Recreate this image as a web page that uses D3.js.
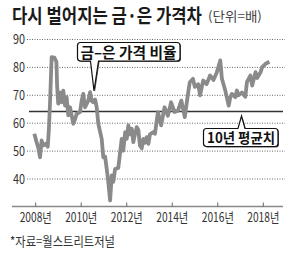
<!DOCTYPE html>
<html>
<head>
<meta charset="utf-8">
<script src="https://cdn.jsdelivr.net/npm/d3@7"></script>
<style>
	body { margin: 0; background: #fff; }
	text { font-family: "Noto Sans CJK KR", "Noto Sans", sans-serif; }
</style>
</head>
<body>
<div id="chart"></div>
<script>
// Gold/silver price ratio (decimal year, ratio)
var years = [2007.94, 2008.04, 2008.12, 2008.19, 2008.26, 2008.33, 2008.44, 2008.53, 2008.58, 2008.63,
	2008.70, 2008.82, 2008.91, 2008.94, 2008.99, 2009.07, 2009.14, 2009.21, 2009.29, 2009.36,
	2009.43, 2009.51, 2009.65, 2009.73, 2009.80, 2009.95, 2010.02, 2010.09, 2010.17, 2010.31,
	2010.39, 2010.46, 2010.53, 2010.61, 2010.68, 2010.75, 2010.90, 2010.97, 2011.05, 2011.12,
	2011.19, 2011.27, 2011.34, 2011.41, 2011.49, 2011.63, 2011.78, 2011.85, 2011.93, 2012.00,
	2012.07, 2012.15, 2012.22, 2012.29, 2012.36, 2012.44, 2012.51, 2012.58, 2012.66, 2012.73,
	2012.80, 2012.88, 2012.95, 2013.02, 2013.17, 2013.24, 2013.37, 2013.51, 2013.66, 2013.81,
	2013.95, 2014.10, 2014.25, 2014.40, 2014.55, 2014.69, 2014.77, 2014.91, 2014.99, 2015.14,
	2015.22, 2015.36, 2015.51, 2015.66, 2015.81, 2015.96, 2016.11, 2016.18, 2016.33, 2016.48,
	2016.55, 2016.62, 2016.77, 2016.84, 2016.91, 2017.06, 2017.21, 2017.28, 2017.43, 2017.51,
	2017.66, 2017.73, 2017.88, 2017.95, 2018.10, 2018.27];
var ratio = [56.2, 53.2, 51.0, 47.8, 53.8, 52.0, 52.6, 51.6, 58.0, 67.5,
	83.7, 83.5, 82.0, 73.5, 67.0, 71.0, 67.5, 71.7, 66.3, 69.3,
	62.8, 65.7, 59.8, 61.4, 63.4, 64.0, 68.1, 70.5, 65.7, 68.1,
	71.1, 68.0, 67.5, 68.5, 65.7, 59.8, 54.4, 47.8, 48.0, 43.6,
	38.9, 32.3, 41.3, 39.0, 43.6, 44.0, 54.4, 50.2, 56.8, 54.4,
	59.2, 56.0, 58.0, 53.2, 56.0, 58.6, 57.6, 52.0, 51.0, 54.4,
	53.0, 55.0, 52.6, 56.0, 56.8, 56.2, 64.0, 59.2, 65.7, 62.7,
	67.5, 64.0, 64.5, 68.1, 62.2, 70.5, 74.7, 75.9, 73.0, 74.0,
	70.0, 75.3, 74.0, 77.1, 75.5, 78.3, 82.5, 76.0, 71.7, 66.3,
	69.3, 70.5, 69.3, 71.7, 70.0, 71.0, 69.5, 74.7, 77.1, 73.5,
	78.3, 76.2, 78.3, 80.1, 81.3, 82.0];
var tenYearAvg = 64.2;

var yTicks = [40, 50, 60, 70, 80, 90];
var xTicks = [2008, 2010, 2012, 2014, 2016, 2018];
var xTickLabels = ['2008년', '2010년', '2012년', '2014년', '2016년', '2018년'];

var titleText = '다시 벌어지는 금·은 가격차';
var unitText = '(단위=배)';
var sourceText = '*자료=월스트리트저널';
var lineLabel = '금–은 가격 비율';
var avgLabel = '10년 평균치';

var svgWidth = 300;
var svgHeight = 253;

var svg = d3.select('#chart').append('svg').attr('width', svgWidth).attr('height', svgHeight);

var x = d3.scaleLinear().domain([2008, 2018]).range([35.7, 263.3]);
var y = d3.scaleLinear().domain([40, 90]).range([179, 39.5]);

// Title: squeezed horizontally with a transform so the text box really ends where it is drawn
var title = svg.append('text').attr('x', 0).attr('y', 0).attr('font-size', 18).attr('font-weight', 'bold')
	.attr('fill', '#1a1a1a').text(titleText);
var titleLen = title.node().getComputedTextLength();
title.attr('transform', `translate(12, 23) scale(${190 / titleLen}, 1.1)`);

var unit = svg.append('text').attr('x', 0).attr('y', 0).attr('font-size', 13).attr('fill', '#444').text(unitText);
var unitLen = unit.node().getComputedTextLength();
unit.attr('transform', `translate(208, 21) scale(${54 / unitLen}, 1)`);

// Dotted gridlines + y labels
var grid = svg.append('g');
grid.selectAll('line').data(yTicks).enter().append('line')
	.attr('x1', 27).attr('x2', 285)
	.attr('y1', (d) => y(d)).attr('y2', (d) => y(d))
	.attr('stroke', '#666').attr('stroke-width', 1).attr('stroke-dasharray', '1,1.5');
grid.selectAll('text').data(yTicks).enter().append('text')
	.attr('x', 25).attr('y', (d) => y(d) + 4.5)
	.attr('text-anchor', 'end').attr('font-size', 13).attr('fill', '#333')
	.attr('textLength', 12).attr('lengthAdjust', 'spacingAndGlyphs')
	.text((d) => d);

// 10-year average
svg.append('line').attr('x1', 29).attr('x2', 283)
	.attr('y1', y(tenYearAvg)).attr('y2', y(tenYearAvg))
	.attr('stroke', '#333').attr('stroke-width', 1.5);

// x axis
var xAxis = svg.append('g');
xAxis.append('line').attr('x1', 12).attr('x2', 283).attr('y1', 206.5).attr('y2', 206.5)
	.attr('stroke', '#888').attr('stroke-width', 1.5);
xAxis.selectAll('.tick').data(xTicks).enter().append('line')
	.attr('x1', (d) => x(d)).attr('x2', (d) => x(d))
	.attr('y1', 202.5).attr('y2', 206.5)
	.attr('stroke', '#666').attr('stroke-width', 1);
xAxis.selectAll('text').data(xTicks).enter().append('text')
	.attr('x', (d) => x(d)).attr('y', 222)
	.attr('text-anchor', 'middle').attr('font-size', 13).attr('fill', '#333')
	.attr('textLength', 32).attr('lengthAdjust', 'spacingAndGlyphs')
	.text((d, i) => xTickLabels[i]);

// Ratio line
var line = d3.line().x((d, i) => x(years[i])).y((d) => y(d));
svg.append('path').datum(ratio).attr('d', line)
	.attr('fill', 'none').attr('stroke', '#8a8a8a').attr('stroke-width', 3.8)
	.attr('stroke-linejoin', 'round');

// Callout boxes with pointers
function callout(x0, y0, x1, y1, px0, px1, tipX, tipY, pointUp) {
	var r = 3;
	var p = d3.path();
	p.moveTo(x0 + r, y0);
	if (pointUp) {
		p.lineTo(px0, y0); p.lineTo(tipX, tipY); p.lineTo(px1, y0);
	}
	p.lineTo(x1 - r, y0);
	p.quadraticCurveTo(x1, y0, x1, y0 + r);
	p.lineTo(x1, y1 - r);
	p.quadraticCurveTo(x1, y1, x1 - r, y1);
	if (!pointUp) {
		p.lineTo(px1, y1); p.lineTo(tipX, tipY); p.lineTo(px0, y1);
	}
	p.lineTo(x0 + r, y1);
	p.quadraticCurveTo(x0, y1, x0, y1 - r);
	p.lineTo(x0, y0 + r);
	p.quadraticCurveTo(x0, y0, x0 + r, y0);
	p.closePath();
	var g = svg.append('g');
	g.append('path').attr('d', p.toString()).attr('transform', 'translate(1,1)').attr('fill', '#555');
	g.append('path').attr('d', p.toString()).attr('fill', '#fff').attr('stroke', '#111').attr('stroke-width', 1.2);
	return g;
}

var c1 = callout(77.5, 42.5, 180, 61, 90.5, 98.5, 94, 91, false);
c1.append('text').attr('x', 80.5).attr('y', 57.5).attr('font-size', 15).attr('font-weight', 'bold')
	.attr('fill', '#111').attr('textLength', 96).attr('lengthAdjust', 'spacingAndGlyphs').text(lineLabel);

var c2 = callout(203.5, 128.5, 278, 146.5, 238, 245, 241.5, 116, true);
c2.append('text').attr('x', 207).attr('y', 143).attr('font-size', 14).attr('font-weight', 'bold')
	.attr('fill', '#111').attr('textLength', 68).attr('lengthAdjust', 'spacingAndGlyphs').text(avgLabel);

// Source
svg.append('text').attr('x', 10).attr('y', 246).attr('font-size', 13).attr('fill', '#333')
	.attr('textLength', 105).attr('lengthAdjust', 'spacingAndGlyphs').text(sourceText);
</script>
</body>
</html>
